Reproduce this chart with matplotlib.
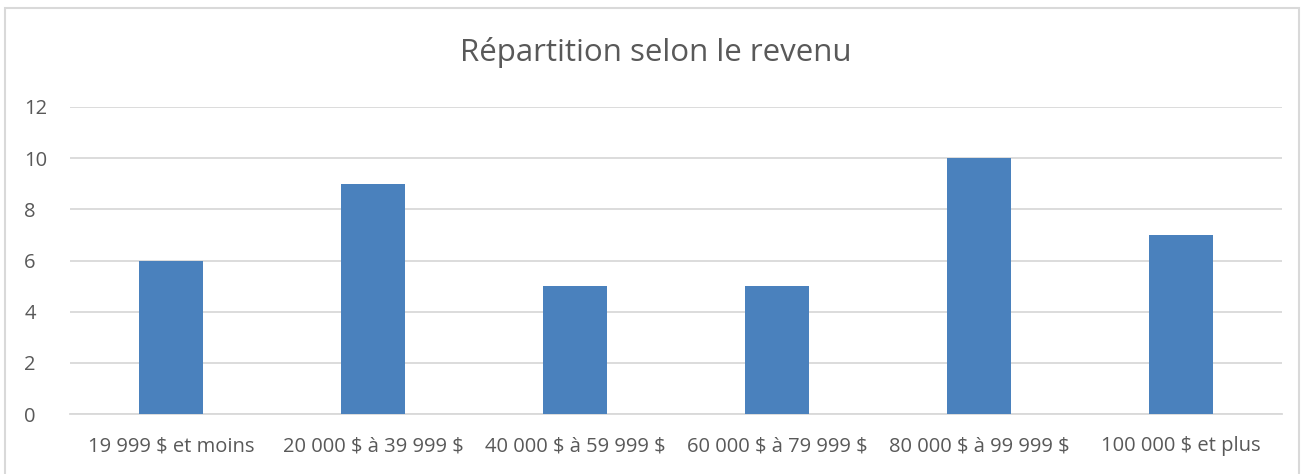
import matplotlib
matplotlib.use("Agg")
import matplotlib.pyplot as plt
from matplotlib.patches import Rectangle

categories = ["19 999 $ et moins", "20 000 $ à 39 999 $", "40 000 $ à 59 999 $",
              "60 000 $ à 79 999 $", "80 000 $ à 99 999 $", "100 000 $ et plus"]
values = [6, 9, 5, 5, 10, 7]
yticks = [0, 2, 4, 6, 8, 10, 12]
title = "Répartition selon le revenu"

W, H = 1312, 474
fig = plt.figure(figsize=(W/100, H/100), dpi=100)
plt.rcParams['font.family'] = ['Open Sans', 'DejaVu Sans']
fig.patches.append(Rectangle((5/W, 1 - 476/H), (1299-5)/W, (476-8)/H, transform=fig.transFigure,
                             fill=False, edgecolor='#D9D9D9', linewidth=1.5))

ax = fig.add_axes([70/W, 1 - 414/H, (1282-70)/W, (414-107)/H])
x = list(range(len(categories)))
ax.bar(x, values, width=0.317, color='#4A81BD', zorder=3)
ax.set_xlim(-0.5, len(categories) - 0.5)
ax.set_ylim(0, 12)
ax.set_yticks(yticks)
ax.set_xticks(x)
ax.set_xticklabels(categories, parse_math=False)
ax.grid(axis='y', color='#D9D9D9', linewidth=1.3, zorder=0)
for s in ['top', 'right', 'left']:
    ax.spines[s].set_visible(False)
ax.spines['bottom'].set_color('#D9D9D9')
ax.spines['bottom'].set_linewidth(1.3)
ax.tick_params(axis='both', length=0, colors='#595959', labelsize=14.5)
ax.tick_params(axis='x', pad=16)
ax.tick_params(axis='y', pad=33)
for lab in ax.get_yticklabels():
    lab.set_horizontalalignment('left')
fig.text(0.5, 1 - 53/H, title, ha='center', va='center', fontsize=22.5, color='#595959')
fig.savefig("out.png", dpi=100)
